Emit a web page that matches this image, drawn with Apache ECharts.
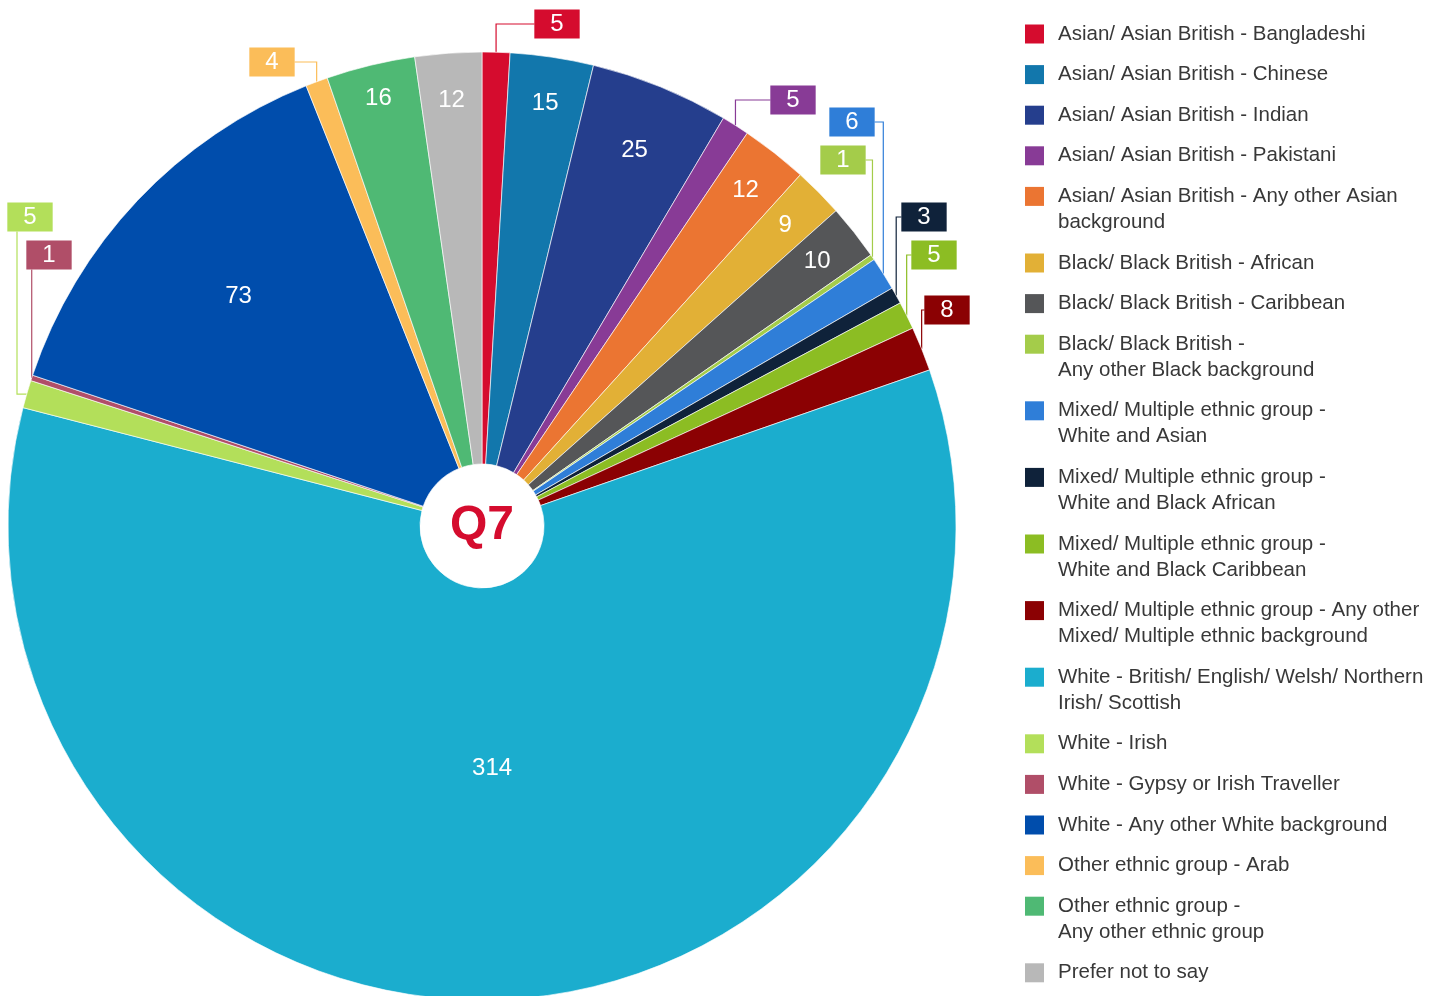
<!DOCTYPE html>
<html>
<head>
<meta charset="utf-8">
<title>Q7</title>
<script src="https://cdn.jsdelivr.net/npm/echarts@6/dist/echarts.min.js"></script>
<style>
  html, body { margin: 0; padding: 0; background: #fff; }
  #chart { width: 1445px; height: 996px; }
</style>
</head>
<body>
<div id="chart"></div>
<script>
var groups = [
  "Asian/ Asian British - Bangladeshi",
  "Asian/ Asian British - Chinese",
  "Asian/ Asian British - Indian",
  "Asian/ Asian British - Pakistani",
  "Asian/ Asian British - Any other Asian background",
  "Black/ Black British - African",
  "Black/ Black British - Caribbean",
  "Black/ Black British - Any other Black background",
  "Mixed/ Multiple ethnic group - White and Asian",
  "Mixed/ Multiple ethnic group - White and Black African",
  "Mixed/ Multiple ethnic group - White and Black Caribbean",
  "Mixed/ Multiple ethnic group - Any other Mixed/ Multiple ethnic background",
  "White - British/ English/ Welsh/ Northern Irish/ Scottish",
  "White - Irish",
  "White - Gypsy or Irish Traveller",
  "White - Any other White background",
  "Other ethnic group - Arab",
  "Other ethnic group - Any other ethnic group",
  "Prefer not to say"
];

var legendLabels = [
  "Asian/ Asian British - Bangladeshi",
  "Asian/ Asian British - Chinese",
  "Asian/ Asian British - Indian",
  "Asian/ Asian British - Pakistani",
  "Asian/ Asian British - Any other Asian\nbackground",
  "Black/ Black British - African",
  "Black/ Black British - Caribbean",
  "Black/ Black British -\nAny other Black background",
  "Mixed/ Multiple ethnic group -\nWhite and Asian",
  "Mixed/ Multiple ethnic group -\nWhite and Black African",
  "Mixed/ Multiple ethnic group -\nWhite and Black Caribbean",
  "Mixed/ Multiple ethnic group - Any other\nMixed/ Multiple ethnic background",
  "White - British/ English/ Welsh/ Northern\nIrish/ Scottish",
  "White - Irish",
  "White - Gypsy or Irish Traveller",
  "White - Any other White background",
  "Other ethnic group - Arab",
  "Other ethnic group -\nAny other ethnic group",
  "Prefer not to say"
];

var counts = [5, 15, 25, 5, 12, 9, 10, 1, 6, 3, 5, 8, 314, 5, 1, 73, 4, 16, 12];

var colors = [
  "#d50c2e", "#1277ac", "#253e8d", "#883b96", "#eb7532",
  "#e2b036", "#555658", "#a4cc4a", "#2f7ed8", "#0f223a",
  "#8cbd23", "#8b0103", "#1badce", "#b3df5a", "#b04e68",
  "#004dac", "#fbbd59", "#4fb974", "#b8b8b8"
];

var chart = echarts.init(document.getElementById("chart"));

var CX = 482, CY = 526;
var FONT = "'Liberation Sans', Arial, sans-serif";

// where the boxed labels of the thin slices sit (box centre), lineX = vertical leg
var boxes = {
  0: { x: 557, y: 24 },
  3: { x: 793, y: 100 },
  7: { x: 843, y: 160 },
  8: { x: 852, y: 122 },
  9: { x: 924, y: 217 },
  10: { x: 934, y: 255 },
  11: { x: 947, y: 310 },
  13: { x: 30, y: 217, lineX: 17 },
  14: { x: 49, y: 255 },
  16: { x: 272, y: 62 }
};
// distance from centre of the labels inside the slices
var labelRadius = { 2: 405, 12: 243, 15: 335, 17: 440 };

var BOX_W = 45, BOX_H = 29;

function placeLabel(p) {
  var i = p.dataIndex;
  var box = boxes[i];
  if (!box) {
    var rc = p.labelRect;
    var lx = rc.x + rc.width / 2 - CX;
    var ly = rc.y + rc.height / 2 - CY;
    var d = Math.sqrt(lx * lx + ly * ly) || 1;
    var rr = labelRadius[i] || 427;
    return { x: CX + lx / d * rr, y: CY + ly / d * rr, align: "center", verticalAlign: "middle" };
  }
  var s = p.labelLinePoints[0];
  var pts;
  if (box.lineX != null) {
    pts = [s, [box.lineX, s[1]], [box.lineX, box.y + BOX_H / 2]];
  } else if (s[0] < box.x - BOX_W / 2) {
    pts = [s, [s[0], box.y], [box.x - BOX_W / 2, box.y]];
  } else if (s[0] > box.x + BOX_W / 2) {
    pts = [s, [s[0], box.y], [box.x + BOX_W / 2, box.y]];
  } else {
    pts = [s, [s[0], box.y + BOX_H / 2]];
  }
  return { x: box.x, y: box.y, align: "center", verticalAlign: "middle", labelLinePoints: pts };
}

var pieData = groups.map(function (name, i) {
  var outside = !!boxes[i];
  return {
    name: name,
    value: counts[i],
    itemStyle: { color: colors[i] },
    label: outside ? {
      position: "outside",
      backgroundColor: colors[i],
      padding: [2, 16, 0, 16],
      lineHeight: 27
    } : {
      position: "inside"
    },
    labelLine: { show: outside }
  };
});

// one legend per entry; two-line names get an empty first line so the
// square stays level with the first line of text
var legends = [];
var c = 34;
groups.forEach(function (name, i) {
  var label = legendLabels[i];
  var lines = label.split("\n").length;
  var shown = lines > 1 ? "\n" + label : label;
  legends.push({
    orient: "vertical",
    left: 1025,
    top: c - 9.5 - (lines > 1 ? 29.5 : 3.5),
    padding: 0,
    itemGap: 0,
    itemWidth: 19,
    itemHeight: 19,
    icon: "rect",
    itemStyle: { borderWidth: 0 },
    data: [name],
    formatter: function () { return shown; },
    textStyle: {
      fontFamily: FONT,
      fontSize: 20.5,
      color: "#383838",
      lineHeight: 26,
      padding: [0, 0, 0, 9]
    }
  });
  c += 40.6 + 26 * (lines - 1);
});

var option = {
  backgroundColor: "#fff",
  animation: false,
  legend: legends,
  graphic: [{
    type: "text",
    x: CX,
    y: CY,
    z: 100,
    style: {
      text: "Q7",
      fill: "#d50c2e",
      font: "bold 48px " + FONT,
      align: "center",
      verticalAlign: "middle"
    }
  }],
  series: [{
    name: "Q7",
    type: "pie",
    center: [CX, CY],
    radius: [62, 474],
    startAngle: 90,
    clockwise: true,
    avoidLabelOverlap: false,
    itemStyle: { borderColor: "rgba(255,255,255,0.8)", borderWidth: 0.8 },
    emphasis: { scale: false },
    label: {
      show: true,
      color: "#fff",
      fontSize: 24,
      fontFamily: FONT,
      formatter: "{c}"
    },
    labelLine: {
      show: true,
      length: 10,
      length2: 10,
      lineStyle: { width: 1.2 }
    },
    labelLayout: placeLabel,
    data: pieData
  }]
};

chart.setOption(option);
</script>
</body>
</html>
